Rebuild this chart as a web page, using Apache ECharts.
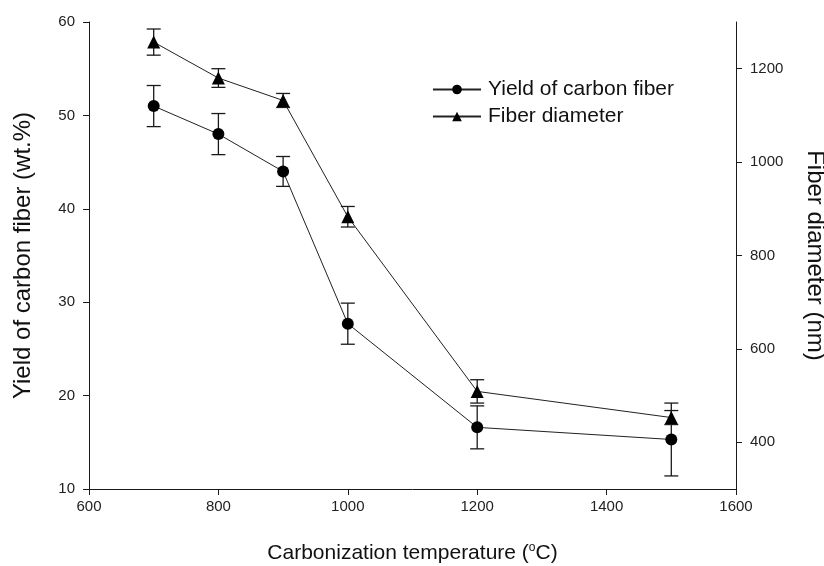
<!DOCTYPE html>
<html>
<head>
<meta charset="utf-8">
<script src="https://cdn.jsdelivr.net/npm/echarts@6/dist/echarts.min.js"></script>
<style>
  html, body { margin: 0; padding: 0; background: #fff; }
  #chart { width: 824px; height: 566px; }
</style>
</head>
<body>
<div id="chart"></div>
<script>
// Carbonization temperature (°C)
const temperatures = [700, 800, 900, 1000, 1200, 1500];
// Yield of carbon fiber (wt.%) and its error
const yieldValues = [51.0, 48.0, 44.0, 27.7, 16.6, 15.3];
const yieldErrors = [2.2, 2.2, 1.6, 2.2, 2.3, 3.9];
// Fiber diameter (nm) and its error
const diameterValues = [1257, 1180, 1132, 883, 509, 453];
const diameterErrors = [28, 20, 15, 22, 25, 15];
// Right-axis tick labels
const diameterTicks = [400, 600, 800, 1000, 1200];

const FONT = 'Liberation Sans, Arial, sans-serif';
const INK = '#1a1a1a';

function pairs(xs, ys) { return xs.map((x, i) => [x, ys[i]]); }
function ranges(xs, ys, es) { return xs.map((x, i) => [x, ys[i] - es[i], ys[i] + es[i]]); }

function errorBar(params, api) {
  const x = api.value(0);
  const lo = api.coord([x, api.value(1)]);
  const hi = api.coord([x, api.value(2)]);
  const hw = 7;
  const style = { stroke: INK, lineWidth: 1.3 };
  return {
    type: 'group',
    children: [
      { type: 'line', shape: { x1: hi[0], y1: hi[1], x2: lo[0], y2: lo[1] }, style },
      { type: 'line', shape: { x1: hi[0] - hw, y1: hi[1], x2: hi[0] + hw, y2: hi[1] }, style },
      { type: 'line', shape: { x1: lo[0] - hw, y1: lo[1], x2: lo[0] + hw, y2: lo[1] }, style }
    ]
  };
}

const axisLineStyle = { show: true, lineStyle: { color: INK, width: 1 } };
const tickStyle = { show: true, inside: false, length: 6, lineStyle: { color: INK, width: 1 } };
const labelStyle = { color: '#222', fontSize: 15, fontFamily: FONT, formatter: v => String(v) };

const chart = echarts.init(document.getElementById('chart'));
chart.setOption({
  backgroundColor: '#fff',
  animation: false,
  grid: { left: 89, right: 88, top: 22, bottom: 77, containLabel: false, outerBoundsMode: 'none' },
  legend: {
    orient: 'vertical',
    left: 427,
    top: 74,
    itemWidth: 48,
    itemHeight: 12,
    itemGap: 6,
    textStyle: { color: '#111', fontSize: 21, fontFamily: FONT, padding: [0, 0, 0, 2] },
    data: ['Yield of carbon fiber', 'Fiber diameter']
  },
  xAxis: {
    type: 'value',
    min: 600,
    max: 1600,
    interval: 200,
    axisLine: axisLineStyle,
    axisTick: tickStyle,
    axisLabel: Object.assign({ margin: 10 }, labelStyle),
    splitLine: { show: false },
    name: '{a|Carbonization temperature (}{s|o}{a|C)}',
    nameLocation: 'middle',
    nameGap: 53,
    nameTextStyle: {
      rich: {
        a: { fontSize: 21, fontFamily: FONT, color: '#111' },
        s: { fontSize: 12, fontFamily: FONT, color: '#111', verticalAlign: 'top', padding: [0, 0, 10, 0] }
      }
    }
  },
  yAxis: [
    {
      type: 'value',
      min: 10,
      max: 60,
      interval: 10,
      position: 'left',
      axisLine: axisLineStyle,
      axisTick: tickStyle,
      axisLabel: Object.assign({ margin: 14 }, labelStyle),
      splitLine: { show: false },
      name: 'Yield of carbon fiber (wt.%)',
      nameLocation: 'middle',
      nameRotate: 90,
      nameGap: 54,
      nameTextStyle: { fontSize: 24, fontFamily: FONT, color: '#111' }
    },
    {
      type: 'value',
      min: 300,
      max: 1300,
      position: 'right',
      axisLine: axisLineStyle,
      axisTick: Object.assign({ customValues: diameterTicks }, tickStyle),
      axisLabel: Object.assign({ margin: 14, customValues: diameterTicks }, labelStyle),
      splitLine: { show: false },
      name: 'Fiber diameter (nm)',
      nameLocation: 'middle',
      nameRotate: -90,
      nameGap: 67,
      nameTextStyle: { fontSize: 24, fontFamily: FONT, color: '#111' }
    }
  ],
  series: [
    {
      name: 'Yield of carbon fiber',
      type: 'line',
      yAxisIndex: 0,
      data: pairs(temperatures, yieldValues),
      symbol: 'circle',
      symbolSize: 12,
      itemStyle: { color: '#000' },
      lineStyle: { color: '#222', width: 1 },
      z: 3
    },
    {
      name: 'Fiber diameter',
      type: 'line',
      yAxisIndex: 1,
      data: pairs(temperatures, diameterValues),
      symbol: 'triangle',
      symbolSize: 13,
      itemStyle: { color: '#000' },
      lineStyle: { color: '#222', width: 1 },
      z: 3
    },
    {
      type: 'custom',
      yAxisIndex: 0,
      renderItem: errorBar,
      data: ranges(temperatures, yieldValues, yieldErrors),
      z: 2,
      silent: true
    },
    {
      type: 'custom',
      yAxisIndex: 1,
      renderItem: errorBar,
      data: ranges(temperatures, diameterValues, diameterErrors),
      z: 2,
      silent: true
    }
  ]
});
</script>
</body>
</html>
